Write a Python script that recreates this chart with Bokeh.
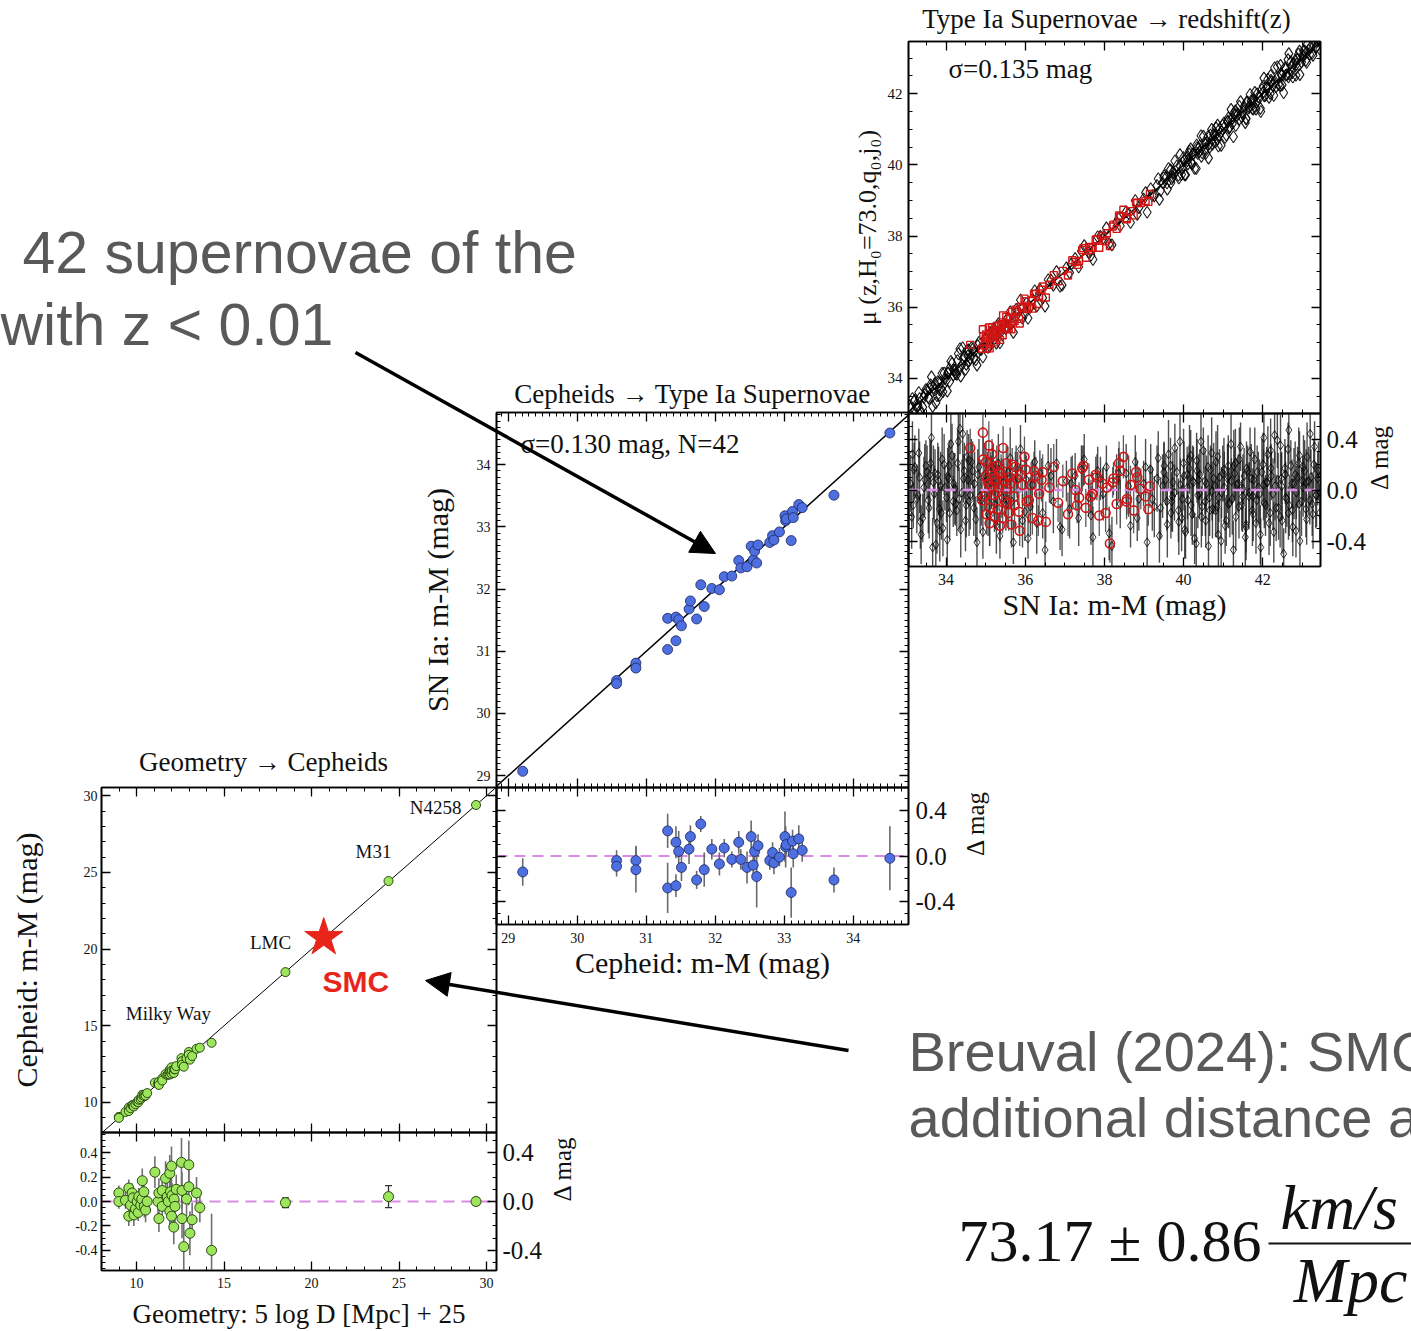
import math
from bokeh.plotting import figure
from bokeh.layouts import column
from bokeh.models import (Range1d, LinearAxis, SingleIntervalTicker, PrintfTickFormatter,
                          ColumnDataSource, Arrow, NormalHead, GridBox, Whisker, TeeHead,
                          Span, Slope)
from bokeh.core.properties import value
from bokeh.embed import file_html
from bokeh.resources import INLINE

# ---------------------------------------------------------------- data
# Panel "Type Ia Supernovae -> redshift(z)": Hubble-flow SNe Ia (black), two read-off batches
sn_x = [33.10, 33.17, 33.21, 33.29, 33.33, 33.41, 33.44, 33.52, 33.55, 33.61,
        33.66, 33.68, 33.74, 33.79, 33.83, 33.86, 33.92, 33.95, 34.01, 34.06,
        34.09, 34.15, 34.22, 34.24, 34.31, 34.35, 34.40, 34.46, 34.49, 34.55,
        34.58, 34.64, 34.70, 34.72, 34.80, 34.86, 34.93, 35.02, 35.10, 35.19,
        35.27, 35.36, 35.45, 35.51, 35.62, 35.70, 35.81, 35.88, 35.99, 36.07,
        36.18, 36.29, 36.37, 36.50, 36.58, 36.71, 36.79, 36.93, 37.04, 37.12,
        37.26, 37.35, 37.49, 37.60, 37.71, 37.83, 37.97, 38.05, 38.19, 38.31,
        38.40, 38.55, 38.66, 38.78, 38.87, 38.99, 39.08, 39.17, 39.26, 39.33,
        39.39, 39.47, 39.51, 39.58, 39.62, 39.68, 39.73, 39.77, 39.83, 39.88,
        39.91, 39.97, 40.01, 40.05, 40.10, 40.14, 40.19, 40.23, 40.28, 40.33,
        40.36, 40.41, 40.45, 40.50, 40.55, 40.58, 40.63, 40.68, 40.72, 40.76,
        40.81, 40.86, 40.89, 40.95, 40.99, 41.03, 41.08, 41.13, 41.17, 41.21,
        41.26, 41.31, 41.35, 41.40, 41.44, 41.49, 41.53, 41.58, 41.62, 41.66,
        41.71, 41.76, 41.80, 41.85, 41.89, 41.94, 41.98, 42.03, 42.07, 42.12,
        42.16, 42.21, 42.26, 42.30, 42.34, 42.39, 42.44, 42.48, 42.53, 42.57,
        42.61, 42.66, 42.71, 42.75, 42.79, 42.84, 42.88, 42.93, 42.98, 43.02,
        43.06, 43.11, 43.16, 43.20, 43.25, 43.29, 43.34, 43.39, 43.44, 43.47]
sn_dmu = [0.05, -0.12, 0.18, -0.04, 0.10, -0.22, 0.02, 0.14, -0.08, 0.21,
          -0.45, 0.06, -0.43, 0.12, -0.15, 0.03, -0.30, 0.20, -0.06, 0.09,
          -0.18, 0.27, 0.01, -0.11, 0.38, 0.48, -0.02, 0.15, -0.24, 0.08,
          -0.09, 0.22, -0.14, 0.05, 0.12, -0.05, -0.33, 0.10, -0.20, 0.17,
          -0.28, -0.36, 0.06, -0.12, 0.25, -0.41, 0.09, 0.32, -0.17, -0.38,
          0.04, -0.26, 0.13, -0.47, 0.19, -0.09, 0.21, -0.31, 0.07, -0.15,
          0.11, -0.22, 0.24, -0.06, -0.37, 0.15, -0.03, 0.18, -0.44, 0.08,
          -0.11, 0.13, -0.28, 0.22, -0.07, 0.05, -0.41, 0.16, -0.13, 0.09,
          -0.36, 0.03, 0.19, -0.09, 0.28, -0.18, 0.06, -0.02, 0.14, -0.25,
          0.38, -0.07, 0.11, -0.33, 0.02, 0.17, -0.12, 0.07, -0.38, 0.23,
          -0.04, 0.12, -0.21, 0.31, -0.09, 0.05, -0.44, 0.16, -0.01, 0.09,
          -0.16, 0.26, -0.06, -0.40, 0.13, 0.02, -0.24, 0.19, -0.10, 0.07,
          -0.47, 0.21, 0.04, -0.13, 0.34, -0.05, 0.11, -0.29, 0.15, -0.02,
          0.09, -0.19, 0.24, -0.08, 0.02, -0.35, 0.14, 0.41, -0.12, 0.06,
          -0.26, 0.17, -0.03, 0.43, -0.14, 0.08, -0.21, 0.03, -0.50, 0.12,
          -0.07, 0.47, 0.19, -0.16, 0.05, -0.32, 0.10, 0.27, -0.09, 0.02,
          0.15, -0.23, 0.07, 0.44, -0.11, 0.20, -0.04, 0.09, -0.18, 0.12]
sn_err = [0.22, 0.18, 0.25, 0.20, 0.28, 0.19, 0.24, 0.21, 0.26, 0.17,
          0.23, 0.29, 0.20, 0.25, 0.18, 0.27, 0.22, 0.24, 0.19, 0.26,
          0.21, 0.25, 0.28, 0.17, 0.23, 0.20, 0.26, 0.22, 0.24, 0.19,
          0.27, 0.18, 0.22, 0.25, 0.20, 0.29, 0.21, 0.16, 0.24, 0.19,
          0.22, 0.18, 0.15, 0.20, 0.24, 0.17, 0.21, 0.19, 0.23, 0.16,
          0.20, 0.24, 0.18, 0.22, 0.17, 0.25, 0.19, 0.21, 0.16, 0.23,
          0.18, 0.22, 0.20, 0.15, 0.24, 0.19, 0.21, 0.17, 0.23, 0.20,
          0.19, 0.23, 0.17, 0.21, 0.25, 0.18, 0.22, 0.20, 0.24, 0.26,
          0.21, 0.25, 0.19, 0.23, 0.27, 0.20, 0.24, 0.22, 0.18, 0.26,
          0.23, 0.19, 0.27, 0.21, 0.25, 0.18, 0.24, 0.28, 0.20, 0.22,
          0.26, 0.20, 0.24, 0.18, 0.27, 0.22, 0.25, 0.19, 0.23, 0.28,
          0.21, 0.25, 0.19, 0.26, 0.22, 0.28, 0.20, 0.24, 0.27, 0.18,
          0.23, 0.27, 0.21, 0.25, 0.19, 0.28, 0.22, 0.26, 0.20, 0.24,
          0.27, 0.21, 0.25, 0.19, 0.28, 0.23, 0.26, 0.20, 0.24, 0.22,
          0.25, 0.19, 0.28, 0.22, 0.26, 0.21, 0.24, 0.27, 0.20, 0.23,
          0.22, 0.26, 0.20, 0.25, 0.28, 0.21, 0.24, 0.19, 0.27, 0.23,
          0.24, 0.20, 0.27, 0.22, 0.25, 0.19, 0.26, 0.21, 0.23, 0.25]

sn_x_b = [33.13, 33.19, 33.26, 33.31, 33.37, 33.46, 33.49, 33.57, 33.63, 33.70,
          33.72, 33.77, 33.81, 33.88, 33.90, 33.97, 34.03, 34.04, 34.12, 34.18,
          34.19, 34.27, 34.29, 34.37, 34.42, 34.44, 34.51, 34.53, 34.61, 34.67,
          34.75, 34.83, 34.89, 34.98, 35.06, 35.14, 35.23, 35.32, 35.41, 35.56,
          35.66, 35.77, 35.93, 36.03, 36.13, 36.24, 36.44, 36.65, 36.88, 37.16,
          37.42, 37.66, 37.90, 38.12, 38.36, 38.61, 38.83, 39.04, 39.21, 39.36,
          39.42, 39.55, 39.59, 39.67, 39.72, 39.78, 39.87, 39.92, 40.00, 40.03,
          40.09, 40.11, 40.18, 40.22, 40.25, 40.32, 40.34, 40.40, 40.44, 40.47,
          40.54, 40.56, 40.62, 40.65, 40.71, 40.73, 40.80, 40.82, 40.88, 40.91,
          40.96, 41.02, 41.05, 41.11, 41.14, 41.20, 41.23, 41.29, 41.32, 41.38,
          41.41, 41.47, 41.50, 41.56, 41.59, 41.65, 41.68, 41.74, 41.77, 41.83,
          41.86, 41.92, 41.95, 42.01, 42.04, 42.10, 42.13, 42.19, 42.22, 42.28,
          42.31, 42.37, 42.40, 42.47, 42.49, 42.56, 42.58, 42.64, 42.67, 42.74,
          42.76, 42.82, 42.85, 42.91, 42.94, 43.01, 43.03, 43.09, 43.12, 43.19,
          43.22, 43.27, 43.31, 43.36, 43.41, 33.15, 33.35, 33.59, 33.84, 34.08,
          34.33, 34.57, 34.78, 39.50, 39.95, 40.38, 40.85, 41.27, 41.75, 42.20,
          42.65, 43.10, 39.70, 40.15, 40.66, 41.12, 41.58, 42.02, 42.45, 42.92]
sn_dmu_b = [-0.21, 0.16, -0.07, 0.29, -0.35, 0.08, 0.19, -0.14, 0.41, -0.03,
            0.13, -0.26, 0.07, -0.18, 0.24, 0.02, -0.39, 0.11, 0.36, -0.09,
            0.05, -0.16, 0.21, -0.31, 0.44, 0.09, -0.12, 0.26, -0.04, 0.15,
            -0.23, 0.18, -0.08, 0.12, -0.19, 0.06, -0.11, 0.21, -0.06, 0.14,
            -0.09, 0.17, -0.24, 0.08, -0.13, 0.22, -0.18, 0.11, -0.29, 0.05,
            0.16, -0.20, 0.09, -0.34, 0.13, 0.03, -0.22, 0.18, -0.07, 0.25,
            -0.14, 0.08, -0.27, 0.19, -0.05, 0.33, -0.16, 0.04, 0.21, -0.31,
            0.12, -0.08, 0.27, -0.19, 0.06, -0.42, 0.15, -0.03, 0.38, -0.13,
            0.07, -0.24, 0.18, -0.06, 0.29, -0.15, 0.03, 0.22, -0.35, 0.10,
            -0.02, 0.16, -0.28, 0.09, -0.11, 0.36, -0.07, 0.13, -0.21, 0.05,
            0.24, -0.12, 0.01, -0.37, 0.17, -0.05, 0.30, -0.16, 0.08, -0.26,
            0.14, -0.03, -0.45, 0.20, -0.10, 0.06, 0.28, -0.18, 0.11, -0.33,
            0.03, 0.39, -0.14, 0.09, -0.24, 0.17, -0.06, 0.32, -0.12, 0.05,
            -0.29, 0.12, -0.02, 0.21, -0.40, 0.07, 0.18, -0.15, 0.26, -0.08,
            0.10, -0.19, 0.34, -0.04, 0.15, 0.28, -0.25, 0.12, -0.32, 0.19,
            -0.07, 0.23, -0.41, 0.14, -0.22, 0.08, -0.13, 0.19, -0.05, 0.31,
            -0.18, 0.06, -0.09, 0.24, -0.16, 0.11, -0.27, 0.04, 0.35, -0.11]
sn_err_b = [0.25, 0.21, 0.27, 0.19, 0.23, 0.28, 0.20, 0.24, 0.26, 0.22,
            0.19, 0.24, 0.27, 0.21, 0.25, 0.18, 0.28, 0.22, 0.26, 0.20,
            0.24, 0.20, 0.26, 0.22, 0.28, 0.19, 0.25, 0.21, 0.27, 0.23,
            0.18, 0.22, 0.20, 0.24, 0.17, 0.21, 0.19, 0.23, 0.16, 0.20,
            0.22, 0.18, 0.21, 0.19, 0.23, 0.17, 0.20, 0.22, 0.18, 0.21,
            0.19, 0.23, 0.17, 0.21, 0.20, 0.24, 0.18, 0.22, 0.25, 0.21,
            0.24, 0.20, 0.26, 0.22, 0.28, 0.19, 0.25, 0.21, 0.27, 0.23,
            0.22, 0.26, 0.20, 0.24, 0.28, 0.21, 0.25, 0.19, 0.27, 0.23,
            0.26, 0.21, 0.25, 0.19, 0.28, 0.23, 0.20, 0.24, 0.27, 0.22,
            0.20, 0.25, 0.22, 0.27, 0.19, 0.24, 0.28, 0.21, 0.26, 0.23,
            0.25, 0.20, 0.27, 0.23, 0.21, 0.26, 0.19, 0.28, 0.22, 0.24,
            0.21, 0.27, 0.23, 0.25, 0.20, 0.28, 0.22, 0.26, 0.19, 0.24,
            0.27, 0.22, 0.25, 0.20, 0.26, 0.23, 0.28, 0.21, 0.24, 0.19,
            0.23, 0.26, 0.21, 0.28, 0.24, 0.20, 0.25, 0.22, 0.27, 0.19,
            0.22, 0.27, 0.20, 0.25, 0.23, 0.26, 0.21, 0.28, 0.24, 0.20,
            0.25, 0.21, 0.27, 0.23, 0.26, 0.20, 0.24, 0.28, 0.22, 0.25,
            0.21, 0.26, 0.23, 0.27, 0.20, 0.25, 0.22, 0.28, 0.24, 0.21]

# red subset of the Hubble-flow sample
red_x = [34.61, 34.93, 34.97, 35.01, 35.04, 35.08, 35.11, 35.15, 35.18, 35.22,
         35.25, 35.29, 35.33, 35.36, 35.40, 35.44, 35.49, 35.53, 35.58, 35.62,
         35.67, 35.73, 35.79, 35.86, 35.93, 36.01, 36.09, 36.18, 36.27, 36.35,
         36.44, 36.52, 36.61, 36.72, 36.83, 36.95, 37.08, 37.19, 37.27, 37.36,
         37.44, 37.53, 37.61, 37.70, 37.78, 37.87, 37.95, 38.06, 38.14, 38.23,
         38.31, 38.40, 38.48, 38.57, 38.66, 38.74, 38.83, 38.92, 39.04, 39.15,
         34.91, 34.94, 35.00, 35.02, 35.07, 35.10, 35.12, 35.16, 35.21, 35.23,
         35.28, 35.30, 35.34, 35.39, 35.43, 35.46, 35.52, 35.54, 35.61, 35.65,
         35.71, 35.75, 35.84, 35.89, 35.98, 36.04, 36.15, 36.22, 36.33, 36.41,
         37.31, 37.47, 37.66, 37.81, 38.03, 38.21, 38.37, 38.56, 38.80, 39.11]
red_dmu = [0.33, 0.45, -0.05, 0.22, 0.08, 0.35, -0.14, 0.03, 0.18, -0.21,
           0.06, -0.02, 0.14, -0.28, 0.10, 0.33, -0.09, 0.01, -0.18, 0.05,
           0.20, -0.12, 0.09, -0.32, 0.04, 0.16, -0.08, -0.22, 0.11, -0.03,
           0.14, -0.25, 0.02, 0.18, -0.10, 0.07, -0.19, 0.13, 0.00, -0.06,
           0.17, -0.14, 0.08, -0.03, 0.12, -0.20, 0.05, 0.02, -0.42, 0.09,
           -0.11, 0.15, 0.26, -0.07, 0.04, -0.16, 0.10, 0.01, -0.05, 0.03,
           -0.08, 0.24, 0.11, -0.19, 0.05, -0.26, 0.15, 0.28, -0.04, 0.09,
           0.19, -0.15, 0.02, 0.13, -0.22, 0.07, 0.21, -0.11, 0.10, -0.27,
           -0.05, 0.18, -0.17, 0.12, 0.26, -0.09, 0.04, 0.15, -0.24, 0.08,
           -0.12, 0.19, -0.05, 0.10, -0.18, 0.06, 0.21, -0.09, 0.14, -0.15]
red_err = [0.15, 0.18, 0.12, 0.16, 0.14, 0.19, 0.13, 0.17, 0.15, 0.12,
           0.16, 0.14, 0.18, 0.13, 0.15, 0.17, 0.12, 0.16, 0.14, 0.18,
           0.13, 0.17, 0.15, 0.12, 0.16, 0.14, 0.18, 0.13, 0.15, 0.17,
           0.14, 0.16, 0.12, 0.18, 0.15, 0.13, 0.17, 0.14, 0.16, 0.12,
           0.18, 0.15, 0.13, 0.17, 0.14, 0.16, 0.12, 0.18, 0.15, 0.13,
           0.16, 0.14, 0.17, 0.12, 0.15, 0.18, 0.13, 0.16, 0.14, 0.17,
           0.14, 0.17, 0.12, 0.16, 0.13, 0.18, 0.15, 0.12, 0.17, 0.14,
           0.16, 0.13, 0.18, 0.15, 0.12, 0.17, 0.14, 0.16, 0.13, 0.18,
           0.15, 0.12, 0.17, 0.14, 0.16, 0.13, 0.18, 0.15, 0.12, 0.17,
           0.14, 0.16, 0.13, 0.18, 0.15, 0.12, 0.17, 0.14, 0.16, 0.13]

# Panel "Cepheids -> Type Ia Supernovae": 42 calibrator hosts
cep_mu = [29.21, 30.57, 30.57, 30.85, 30.85, 31.31, 31.31, 31.43, 31.43, 31.47,
          31.51, 31.62, 31.64, 31.73, 31.79, 31.84, 31.95, 32.06, 32.13, 32.24,
          32.34, 32.37, 32.46, 32.52, 32.55, 32.57, 32.60, 32.62, 32.79, 32.83,
          32.85, 32.93, 33.01, 33.02, 33.03, 33.10, 33.12, 33.13, 33.21, 33.26,
          33.72, 34.53]
cep_dmu = [-0.14, -0.04, -0.09, -0.04, -0.12, 0.22, -0.28, 0.12, -0.26, 0.04,
           -0.10, 0.06, 0.17, -0.21, 0.28, -0.12, 0.06, -0.07, 0.07, -0.03,
           0.12, -0.03, -0.10, 0.17, -0.08, 0.04, -0.18, 0.09, -0.04, 0.03,
           -0.06, -0.01, 0.17, 0.08, 0.10, -0.32, 0.13, 0.02, 0.15, 0.05,
           -0.21, -0.02]
cep_err = [0.12, 0.09, 0.09, 0.13, 0.20, 0.15, 0.22, 0.14, 0.10, 0.18,
           0.12, 0.13, 0.10, 0.08, 0.07, 0.15, 0.09, 0.10, 0.08, 0.07,
           0.10, 0.09, 0.14, 0.14, 0.10, 0.11, 0.27, 0.10, 0.08, 0.09,
           0.10, 0.08, 0.22, 0.18, 0.09, 0.22, 0.10, 0.12, 0.12, 0.10,
           0.11, 0.28]

# Panel "Geometry -> Cepheids": Milky Way parallax Cepheids
mw_geo = [8.99, 8.99, 9.37, 9.56, 9.56, 9.66, 9.75, 9.80, 9.85, 9.94,
          10.04, 10.10, 10.13, 10.24, 10.30, 10.33, 10.42, 10.45, 10.52, 10.61,
          11.05, 11.23, 11.28, 11.28, 11.47, 11.47, 11.66, 11.76, 11.82, 11.90,
          11.90, 11.94, 12.00, 12.00, 12.03, 12.13, 12.15, 12.20, 12.27, 12.57,
          12.60, 12.60, 12.70, 12.86, 12.99, 12.99, 13.05, 13.18, 13.43, 13.62,
          14.29]
mw_dmu = [0.07, 0.00, 0.01, 0.11, -0.12, -0.03, 0.07, 0.03, -0.11, -0.06,
          0.00, -0.09, 0.04, -0.03, 0.02, 0.17, 0.08, -0.04, -0.07, 0.00,
          0.24, 0.00, 0.07, -0.14, 0.09, -0.04, 0.19, 0.04, 0.00, 0.23,
          -0.08, 0.08, 0.29, -0.12, 0.05, -0.21, 0.02, -0.04, 0.10, 0.32,
          0.09, -0.14, -0.37, 0.02, 0.30, 0.12, -0.26, -0.15, 0.07, -0.05,
          -0.40]
mw_err = [0.06, 0.06, 0.07, 0.07, 0.08, 0.06, 0.08, 0.07, 0.09, 0.07,
          0.08, 0.07, 0.07, 0.09, 0.08, 0.10, 0.09, 0.09, 0.10, 0.08,
          0.13, 0.10, 0.12, 0.11, 0.12, 0.10, 0.14, 0.12, 0.11, 0.15,
          0.12, 0.13, 0.16, 0.12, 0.10, 0.14, 0.11, 0.13, 0.12, 0.20,
          0.15, 0.16, 0.25, 0.14, 0.20, 0.15, 0.18, 0.14, 0.13, 0.12,
          0.30]

# geometric anchors
anchor_names = ["LMC", "M31", "N4258"]
anchor_geo = [18.51, 24.40, 29.40]
anchor_dmu = [-0.01, 0.04, 0.00]
anchor_err = [0.04, 0.09, 0.03]

# SMC (Breuval 2024) marker
smc_geo = [20.70]
smc_ceph = [20.75]

# ---------------------------------------------------------------- helpers
W, H = 1411, 1331
SERIF = "Liberation Serif"
SANS = "Liberation Sans"
INK = "#111111"


def res_source(x, d, e):
    return ColumnDataSource(dict(
        x=x, d=d,
        y=[a + b for a, b in zip(x, d)],
        lo=[b - c for b, c in zip(d, e)],
        hi=[b + c for b, c in zip(d, e)],
    ))


def panel(xr, yr, box):
    l, t, r, b = box
    p = figure(width=W, height=H, x_range=xr, y_range=yr, output_backend="svg",
               toolbar_location=None, x_axis_location=None, y_axis_location=None,
               min_border_left=l, min_border_top=t,
               min_border_right=W - r, min_border_bottom=H - b)
    p.background_fill_color = None
    p.border_fill_color = None
    p.outline_line_color = "black"
    p.outline_line_width = 1.6
    p.xgrid.visible = False
    p.ygrid.visible = False
    return p


def axis(p, side, interval, minor, label_size=None, fmt=None, standoff=6,
         title=None, title_size="28px", title_standoff=5, orient=None):
    ax = LinearAxis(ticker=SingleIntervalTicker(interval=interval, num_minor_ticks=minor),
                    axis_line_width=1.6, major_tick_in=9, major_tick_out=0,
                    minor_tick_in=4, minor_tick_out=0,
                    major_tick_line_width=1.3, minor_tick_line_width=1.0)
    if label_size:
        ax.major_label_text_font = SERIF
        ax.major_label_text_font_size = label_size
        ax.major_label_text_color = INK
        ax.major_label_standoff = standoff
        if fmt:
            ax.formatter = PrintfTickFormatter(format=fmt)
    else:
        ax.major_label_text_color = None
        ax.major_label_standoff = 0
    if title:
        ax.axis_label = title
        ax.axis_label_text_font = SERIF
        ax.axis_label_text_font_style = "normal"
        ax.axis_label_text_font_size = title_size
        ax.axis_label_text_color = INK
        ax.axis_label_standoff = title_standoff
        if orient is not None:
            ax.axis_label_orientation = orient
    p.add_layout(ax, side)
    return ax


DASH_COLOR = "#d98be6"
RED = "#d01515"

# ---------------------------------------------------------------- panel 3 : SN Ia -> z
X3 = Range1d(33.05, 43.46)
p3 = panel(X3, Range1d(33.01, 43.47), (908, 41, 1320, 413))
axis(p3, "left", 2, 4, "15px", standoff=6,
     title="μ (z,H₀=73.0,q₀,j₀)", title_size="26px", title_standoff=3)
axis(p3, "right", 2, 4)
axis(p3, "above", 2, 4)
axis(p3, "below", 2, 4)
src_sn = res_source(sn_x + sn_x_b, sn_dmu + sn_dmu_b, sn_err + sn_err_b)
src_red = res_source(red_x, red_dmu, red_err)
p3.add_layout(Slope(gradient=1, y_intercept=0, line_color="black", line_width=1.5, level="underlay"))
p3.scatter("x", "y", source=src_sn, marker="diamond", size=12, fill_color=None,
           line_color="black", line_width=1.1, line_alpha=0.9)
p3.scatter("x", "y", source=src_red, marker="square", size=7, fill_color=None,
           line_color=RED, line_width=1.4)

p3r = panel(X3, Range1d(-0.6, 0.6), (908, 413, 1320, 566))
axis(p3r, "below", 2, 4, "16px", standoff=7,
     title="SN Ia: m-M (mag)", title_size="30px", title_standoff=0)
axis(p3r, "above", 2, 4)
axis(p3r, "left", 0.4, 4)
axis(p3r, "right", 0.4, 4, "25px", fmt="%.1f", standoff=6,
     title="Δ mag", title_size="25px", title_standoff=10, orient=math.pi / 2)
p3r.segment(x0="x", y0="lo", x1="x", y1="hi", source=src_sn, line_color="#222222",
            line_width=1.4, line_alpha=0.8)
p3r.segment(x0="x", y0="lo", x1="x", y1="hi", source=src_red, line_color="#333333",
            line_width=1.3, line_alpha=0.8)
p3r.scatter("x", "d", source=src_sn, marker="diamond", size=9, fill_color=None,
            line_color="black", line_width=1.0, line_alpha=0.8)
p3r.line(x=[X3.start, X3.end], y=[0, 0], line_color=DASH_COLOR, line_width=2.4,
         line_dash="11 7")
p3r.scatter("x", "d", source=src_red, marker="circle", size=9, fill_color=None,
            line_color=RED, line_width=1.6)

# ---------------------------------------------------------------- panel 2 : Cepheids -> SN Ia
X2 = Range1d(28.83, 34.80)
p2 = panel(X2, Range1d(28.81, 34.84), (496, 412, 908, 787))
axis(p2, "left", 1, 10, "14px", standoff=6,
     title="SN Ia: m-M (mag)", title_size="30px", title_standoff=20)
axis(p2, "right", 1, 10)
axis(p2, "above", 1, 10)
axis(p2, "below", 1, 10)
src_cep = res_source(cep_mu, cep_dmu, cep_err)
p2.add_layout(Slope(gradient=1, y_intercept=0, line_color="black", line_width=1.5, level="underlay"))
p2.scatter("x", "y", source=src_cep, marker="circle", size=10, fill_color="#4d6fe0",
           line_color="#1a2560", line_width=0.8)

p2r = panel(X2, Range1d(-0.6, 0.6), (496, 787, 908, 924))
axis(p2r, "below", 1, 10, "14px", standoff=8,
     title="Cepheid: m-M (mag)", title_size="30px", title_standoff=0)
axis(p2r, "above", 1, 10)
axis(p2r, "left", 0.4, 4)
axis(p2r, "right", 0.4, 4, "25px", fmt="%.1f", standoff=7,
     title="Δ mag", title_size="25px", title_standoff=17, orient=math.pi / 2)
p2r.add_layout(Span(location=0, dimension="width", line_color=DASH_COLOR, line_width=2.2,
                    line_dash="11 7", level="underlay"))
p2r.segment(x0="x", y0="lo", x1="x", y1="hi", source=src_cep, line_color="#6a6a6a",
            line_width=1.6)
p2r.scatter("x", "d", source=src_cep, marker="circle", size=10, fill_color="#4d6fe0",
            line_color="#1a2560", line_width=0.8)

# ---------------------------------------------------------------- panel 1 : Geometry -> Cepheids
X1 = Range1d(8.0, 30.57)
p1 = panel(X1, Range1d(8.04, 30.54), (101, 787, 496, 1132))
axis(p1, "left", 5, 5, "14px", standoff=4,
     title="Cepheid: m-M (mag)", title_size="30px", title_standoff=38)
axis(p1, "right", 5, 5)
axis(p1, "above", 5, 5)
axis(p1, "below", 5, 5)
src_mw = res_source(mw_geo, mw_dmu, mw_err)
src_anc = res_source(anchor_geo, anchor_dmu, anchor_err)
p1.add_layout(Slope(gradient=1, y_intercept=0, line_color="black", line_width=1.0, level="underlay"))
p1.scatter("x", "y", source=src_mw, marker="circle", size=9, fill_color="#9de55c",
           line_color="#2a4a10", line_width=1.0)
p1.scatter("x", "y", source=src_anc, marker="circle", size=9, fill_color="#9de55c",
           line_color="#2a4a10", line_width=1.0)
p1.text(x=[28.57, 23.54, 17.66, 11.83], y=[29.23, 26.36, 20.43, 15.80],
        text=["N4258", "M31", "LMC", "Milky Way"],
        text_align=["right", "center", "center", "center"], text_baseline="middle",
        text_font=value(SERIF), text_font_size="19px", text_color=INK)
p1.scatter(smc_geo, smc_ceph, marker="star", size=40, fill_color="#e8251b",
           line_color="#e8251b")
p1.text(x=[20.63], y=[17.88], text=["SMC"], text_align="left", text_baseline="middle",
        text_font=value(SANS), text_font_style="bold", text_font_size="30px",
        text_color="#e8251b")

p1r = panel(X1, Range1d(-0.565, 0.565), (101, 1132, 496, 1270))
axis(p1r, "below", 5, 5, "14px", standoff=7,
     title="Geometry: 5 log D [Mpc] + 25", title_size="27px", title_standoff=8)
axis(p1r, "above", 5, 5)
axis(p1r, "left", 0.2, 4, "14px", fmt="%.1f", standoff=4)
axis(p1r, "right", 0.4, 4, "25px", fmt="%.1f", standoff=6,
     title="Δ mag", title_size="25px", title_standoff=17, orient=math.pi / 2)
p1r.add_layout(Span(location=0, dimension="width", line_color=DASH_COLOR, line_width=2.2,
                    line_dash="11 7", level="underlay"))
p1r.segment(x0="x", y0="lo", x1="x", y1="hi", source=src_mw, line_color="#707070",
            line_width=1.6)
p1r.add_layout(Whisker(source=src_anc, base="x", lower="lo", upper="hi", dimension="height",
                       line_color="#333333", line_width=1.3,
                       lower_head=TeeHead(size=7, line_color="#333333", line_width=1.3),
                       upper_head=TeeHead(size=7, line_color="#333333", line_width=1.3)))
p1r.scatter("x", "d", source=src_mw, marker="circle", size=10, fill_color="#9de55c",
            line_color="#2a4a10", line_width=1.0)
p1r.scatter("x", "d", source=src_anc, marker="circle", size=10, fill_color="#9de55c",
            line_color="#2a4a10", line_width=1.0)

# ---------------------------------------------------------------- slide overlay (pixel space)
cv = figure(width=W, height=H, x_range=Range1d(0, W), y_range=Range1d(H, 0),
            output_backend="svg", toolbar_location=None, x_axis_location=None,
            y_axis_location=None, min_border=0)
cv.background_fill_color = None
cv.border_fill_color = None
cv.outline_line_color = None
cv.xgrid.visible = False
cv.ygrid.visible = False

cv.text(x=[1106, 692, 263], y=[18, 393, 761],
        text=["Type Ia Supernovae → redshift(z)", "Cepheids → Type Ia Supernovae",
              "Geometry → Cepheids"],
        text_align="center", text_baseline="middle", text_font=value(SERIF),
        text_font_size="27px", text_color=INK)
cv.text(x=[948, 520], y=[68, 443], text=["σ=0.135 mag", "σ=0.130 mag, N=42"],
        text_align="left", text_baseline="middle", text_font=value(SERIF),
        text_font_size="27px", text_color=INK)

GRAY = "#595959"
cv.text(x=[22, 0], y=[252, 324], text=["42 supernovae of the", "with z < 0.01"],
        text_align="left", text_baseline="middle", text_font=value(SANS),
        text_font_size="59px", text_color=GRAY)
cv.text(x=[908, 908], y=[1051, 1117], text=["Breuval (2024): SMC", "additional distance a"],
        text_align="left", text_baseline="middle", text_font=value(SANS),
        text_font_size="56px", text_color=GRAY)

cv.text(x=[958], y=[1240], text=["73.17 ± 0.86"], text_align="left",
        text_baseline="middle", text_font=value(SERIF), text_font_size="60px",
        text_color=INK)
cv.text(x=[1280, 1350], y=[1207, 1280], text=["km/s", "Mpc"],
        text_align=["left", "center"], text_baseline="middle", text_font=value(SERIF),
        text_font_style="italic", text_font_size="64px", text_color=INK)
cv.line(x=[1268, 1411], y=[1243, 1243], line_color=INK, line_width=2.2)

cv.add_layout(Arrow(end=NormalHead(size=24, fill_color="black", line_color="black"),
                    x_start=355, y_start=352, x_end=715, y_end=553,
                    line_width=3.5, line_color="black"))
cv.add_layout(Arrow(end=NormalHead(size=24, fill_color="black", line_color="black"),
                    x_start=848, y_start=1050, x_end=425, y_end=980,
                    line_width=3.5, line_color="black"))

# each layer wrapped in its own column so the grid does not align their frames;
# all layers share one grid cell and are stacked on top of each other
layers = [p1, p1r, p2, p2r, p3, p3r, cv]
layout = GridBox(children=[(column(fig), 0, 0) for fig in layers])

with open("out.html", "w") as f:
    f.write(file_html(layout, INLINE))
